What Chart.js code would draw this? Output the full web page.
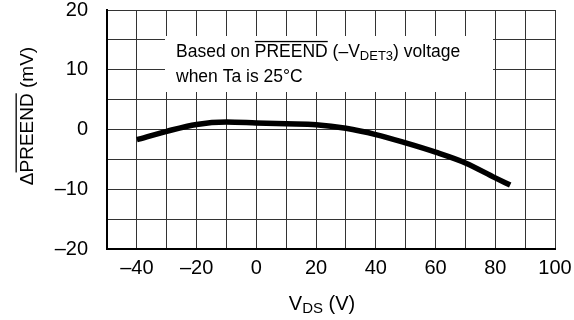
<!DOCTYPE html>
<html><head><meta charset="utf-8">
<script src="https://cdn.jsdelivr.net/npm/chart.js@4"></script>
<style>html,body{margin:0;background:#fff}#wrap{width:574px;height:320px}</style>
</head><body><div id="wrap"><canvas id="c"></canvas></div>
<script>
var vds = [-40, -30, -20, -10, 0, 10, 20, 30, 40, 50, 60, 70, 80, 85];
var dPreend = [-1.7, -0.3, 0.85, 1.25, 1.1, 0.95, 0.8, 0.2, -0.85, -2.25, -3.8, -5.6, -8.1, -9.3];
var xLabelled = [-40, -20, 0, 20, 40, 60, 80, 100];
var yLabelled = [-20, -10, 0, 10, 20];

var FONT = "'Liberation Sans', Arial, sans-serif";

function dash(v) { return v < 0 ? "\u2013" + Math.abs(v) : String(v); }

// draw text made of parts {t, sub, over}
function rich(ctx, parts, x, y, size, align) {
  var subSize = Math.round(size * 0.75);
  var w = 0;
  parts.forEach(function (p) {
    ctx.font = (p.sub ? subSize : size) + "px " + FONT;
    p.w = ctx.measureText(p.t).width;
    w += p.w;
  });
  var cx = align === "center" ? x - w / 2 : x;
  ctx.textBaseline = "alphabetic";
  ctx.textAlign = "left";
  parts.forEach(function (p) {
    ctx.font = (p.sub ? subSize : size) + "px " + FONT;
    ctx.fillText(p.t, cx, y + (p.sub ? size * 0.15 : 0));
    if (p.over) {
      ctx.fillRect(cx, y - size * 0.92, p.w, 1.3);
    }
    cx += p.w;
  });
}

var decor = {
  id: "decor",
  beforeDatasetsDraw: function (chart) {
    var ctx = chart.ctx;
    ctx.save();
    ctx.fillStyle = "#fff";
    ctx.fillRect(165, 36, 328, 56);
    ctx.fillStyle = "#000";
    rich(ctx, [{t: "Based on "}, {t: "PREEND", over: true}, {t: " (\u2013V"}, {t: "DET3", sub: true}, {t: ") voltage"}], 176, 57, 17.5, "left");
    rich(ctx, [{t: "when Ta is 25\u00b0C"}], 176, 82, 17.5, "left");
    ctx.restore();
  },
  afterDraw: function (chart) {
    var ctx = chart.ctx;
    ctx.save();
    ctx.fillStyle = "#000";
    rich(ctx, [{t: "V"}, {t: "DS", sub: true}, {t: " (V)"}], 322, 310, 20, "center");
    ctx.translate(33, 116);
    ctx.rotate(-Math.PI / 2);
    rich(ctx, [{t: "\u0394"}, {t: "PREEND", over: true}, {t: " (mV)"}], 0, 0, 19, "center");
    ctx.restore();
  }
};

new Chart(document.getElementById("c"), {
  type: "line",
  data: {
    datasets: [{
      data: vds.map(function (x, i) { return {x: x, y: dPreend[i]}; }),
      borderColor: "#000",
      borderWidth: 5.5,
      borderCapStyle: "butt",
      pointRadius: 0,
      cubicInterpolationMode: "monotone",
      fill: false
    }]
  },
  options: {
    responsive: true,
    maintainAspectRatio: false,
    animation: false,
    layout: {padding: {top: 10, right: 19, left: 0, bottom: 0}},
    plugins: {legend: {display: false}, tooltip: {enabled: false}},
    scales: {
      x: {
        type: "linear", min: -50, max: 100,
        afterFit: function (s) { s.height = 71; s.paddingLeft = 0; s.paddingRight = 0; },
        border: {color: "#000", width: 2},
        grid: {color: "#333", lineWidth: 1, drawTicks: false},
        ticks: {
          stepSize: 10, padding: 7, color: "#000", maxRotation: 0, autoSkip: false,
          font: {family: FONT, size: 20},
          callback: function (v) { return xLabelled.indexOf(v) >= 0 ? dash(v) : ""; }
        }
      },
      y: {
        min: -20, max: 20,
        afterFit: function (s) { s.width = 107; s.paddingTop = 0; s.paddingBottom = 0; },
        border: {color: "#000", width: 2},
        grid: {color: "#333", lineWidth: 1, drawTicks: false},
        ticks: {
          stepSize: 5, padding: 19, color: "#000", autoSkip: false,
          font: {family: FONT, size: 20},
          callback: function (v) { return yLabelled.indexOf(v) >= 0 ? dash(v) : ""; }
        }
      }
    }
  },
  plugins: [decor]
});
</script>
</body></html>
